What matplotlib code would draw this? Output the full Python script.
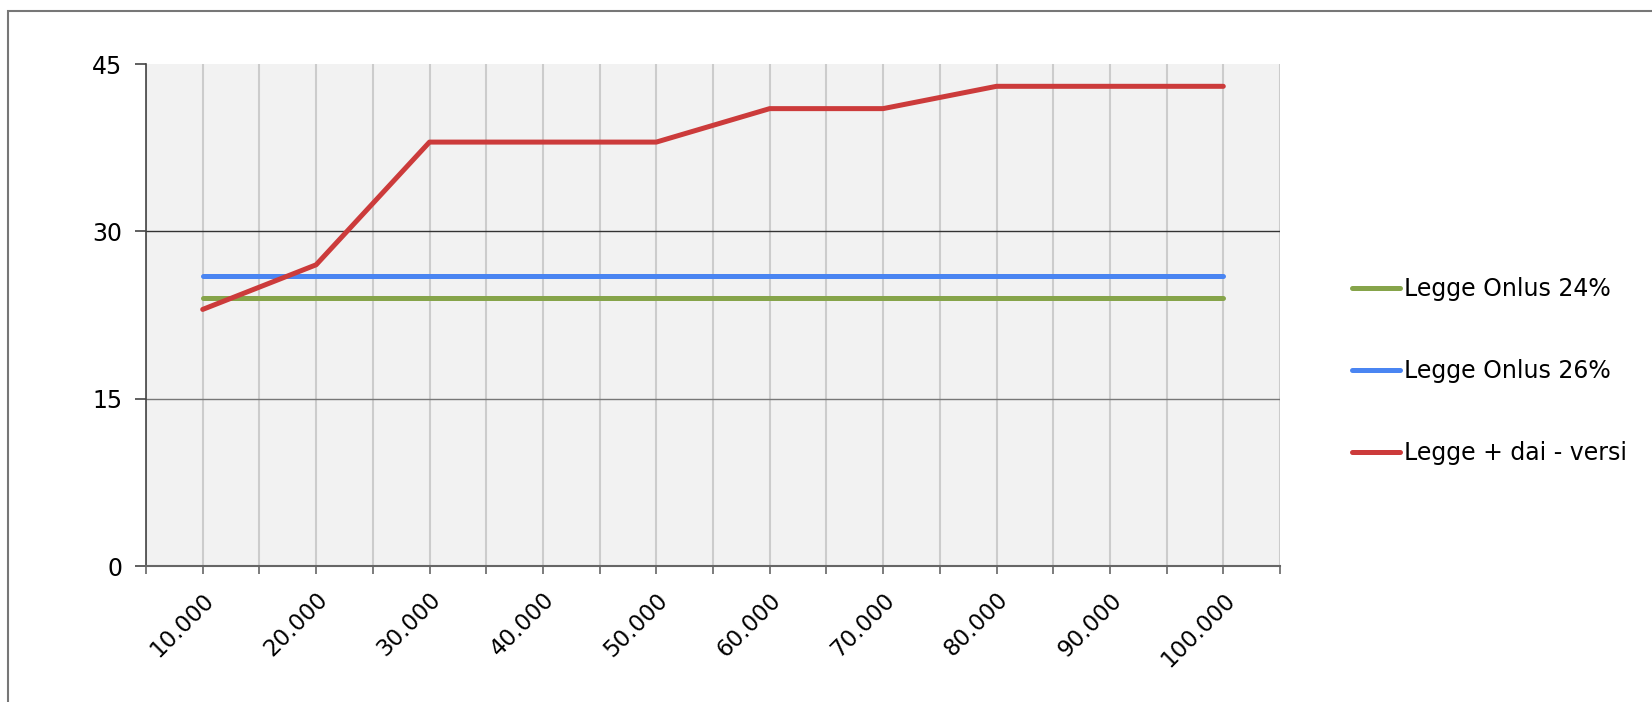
import numpy as np
import matplotlib
matplotlib.use("Agg")
import matplotlib.pyplot as plt
from matplotlib.patches import Rectangle

# data
categories = ["10.000", "20.000", "30.000", "40.000", "50.000",
              "60.000", "70.000", "80.000", "90.000", "100.000"]
onlus_24 = [24, 24, 24, 24, 24, 24, 24, 24, 24, 24]
onlus_26 = [26, 26, 26, 26, 26, 26, 26, 26, 26, 26]
dai_versi = [23, 27, 38, 38, 38, 41, 41, 43, 43, 43]
series_names = ["Legge Onlus 24%", "Legge Onlus 26%", "Legge + dai - versi"]
series_colors = ["#86a44a", "#4a85f2", "#cc3b3b"]
y_ticks = [0, 15, 30, 45]

plt.rcParams['font.family'] = ['DejaVu Sans']

fig = plt.figure(figsize=(16.52, 7.02), dpi=100)
ax = fig.add_axes([146 / 1652, 1 - 566 / 702, (1280 - 146) / 1652, (566 - 64) / 702])
ax.set_facecolor("#f2f2f2")

x = np.arange(len(categories))
for vals, name, col in zip([onlus_24, onlus_26, dai_versi], series_names, series_colors):
    ax.plot(x, vals, color=col, lw=3.6, label=name, solid_capstyle="round", zorder=3)

ax.set_xlim(-0.5, len(categories) - 0.5)
ax.set_ylim(0, 45)

# x: labelled ticks at categories, plain ticks in between
ax.set_xticks(x)
ax.set_xticklabels(categories, rotation=45, ha="right", va="top",
                   rotation_mode="anchor", fontsize=16.5)
ax.set_xticks(np.arange(-0.5, len(categories), 1.0), minor=True)
ax.tick_params(axis="x", which="both", length=6, width=1.2, color="#666666", pad=10)
ax.grid(axis="x", which="both", color="#cccccc", lw=1.5, zorder=1)

ax.set_yticks(y_ticks)
ax.tick_params(axis="y", length=8, width=1.2, color="#444444", pad=9, labelsize=17)
ax.grid(axis="y", which="major", color="#333333", lw=1.0, zorder=1)
for gl, t in zip(ax.get_ygridlines(), y_ticks):
    if t in (0, 45):
        gl.set_visible(False)
    elif t == 15:
        gl.set_color("#777777")
ax.set_axisbelow(True)

for s in ["top", "right"]:
    ax.spines[s].set_visible(False)
ax.spines["left"].set_color("#444444")
ax.spines["left"].set_linewidth(1.2)
ax.spines["bottom"].set_color("#666666")
ax.spines["bottom"].set_linewidth(1.5)

fig.legend(loc="center left", bbox_to_anchor=(1340 / 1652, 1 - 371 / 702),
           frameon=False, fontsize=17, handlelength=2.05, handletextpad=0.15,
           labelspacing=2.45, borderpad=0)

# outer frame, only its top and left edges show
fig.patches.append(Rectangle((8 / 1652, -0.1), 1.2, 1 - 11 / 702 + 0.1,
                             transform=fig.transFigure, fill=False,
                             edgecolor="#777777", lw=1.5))

fig.savefig("out.png", dpi=100)
